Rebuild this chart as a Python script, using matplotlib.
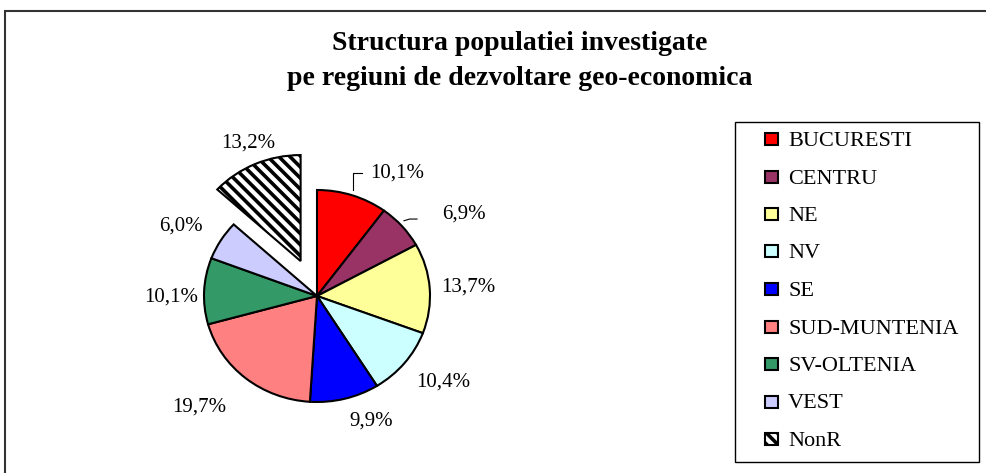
import matplotlib
matplotlib.use('Agg')
import matplotlib.pyplot as plt
from matplotlib.patches import Rectangle
import numpy as np

regions = ['BUCURESTI', 'CENTRU', 'NE', 'NV', 'SE', 'SUD-MUNTENIA', 'SV-OLTENIA', 'VEST', 'NonR']
shares = [10.1, 6.9, 13.7, 10.4, 9.9, 19.7, 10.1, 6.0, 13.2]
colors = ['#FF0000', '#993366', '#FFFF99', '#CCFFFF', '#0000FF', '#FF8080', '#339966', '#CCCCFF', 'white']
title = 'Structura populatiei investigate\npe regiuni de dezvoltare geo-economica'

explode = [0, 0, 0, 0, 0, 0, 0, 0, 0.36]
# label placement: shift (deg) from wedge middle and distance from centre
label_shift = [-13.2, -10.4, -0.5, 3.4, 7.9, -5.8, 3.1, 2.9, -0.8]
label_dist = [1.36, 1.51, 1.34, 1.38, 1.27, 1.48, 1.29, 1.37, 1.57]

plt.rcParams['font.family'] = ['Liberation Serif', 'DejaVu Serif']
plt.rcParams['hatch.linewidth'] = 2.6

fig = plt.figure(figsize=(9.86, 4.73), dpi=100)
W, H = 986, 473

# pie axes: centre at pixel (317, 296); the original is slightly wider than tall
cx, cy, rx, ry = 317, 296, 113, 106
left, right, top, bottom = 100, 540, 120, 460
ax = fig.add_axes([left / W, (H - bottom) / H, (right - left) / W, (bottom - top) / H])
wedges, _ = ax.pie(shares, colors=colors, startangle=90, counterclock=False,
                   explode=explode, radius=1,
                   wedgeprops=dict(edgecolor='black', linewidth=1.5))
wedges[-1].set_hatch('\\\\\\')
ax.set_aspect('auto')
ax.set_xlim((left - cx) / rx, (right - cx) / rx)
ax.set_ylim((cy - bottom) / ry, (cy - top) / ry)
ax.axis('off')

for w, v, s, d in zip(wedges, shares, label_shift, label_dist):
    ang = np.deg2rad((w.theta1 + w.theta2) / 2 + s)
    ax.text(d * np.cos(ang), d * np.sin(ang), f'{v:.1f}%'.replace('.', ','),
            ha='center', va='center', fontsize=15)

# leader lines for the two small labels at top right
ax.plot([0.32, 0.32, 0.40], [1.0, 1.16, 1.16], color='black', lw=0.8)
ax.plot([0.77, 0.82, 0.885], [0.71, 0.726, 0.726], color='black', lw=0.8)

fig.text(520 / W, 1 - 61 / H, title, ha='center', va='center', fontsize=20,
         fontweight='bold', linespacing=1.52)

# legend box, drawn by hand to match the original spacing
fig.patches.append(Rectangle((735 / W, 1 - 462 / H), 244 / W, 340 / H,
                             transform=fig.transFigure, fill=False,
                             edgecolor='black', linewidth=1.0))
for i, (w, name) in enumerate(zip(wedges, regions)):
    yc = 139 + i * 37.5
    fig.patches.append(Rectangle((765 / W, 1 - (yc + 6) / H), 13 / W, 12 / H,
                                 transform=fig.transFigure,
                                 facecolor=w.get_facecolor(), hatch=w.get_hatch(),
                                 edgecolor='black', linewidth=1.5))
    fig.text(788 / W, 1 - yc / H, name, ha='left', va='center_baseline', fontsize=16)

# outer chart frame (runs off the right and bottom edges)
fig.patches.append(Rectangle((5 / W, -0.1), 1.2, 1.1 - 11 / H,
                             transform=fig.transFigure, fill=False,
                             edgecolor='#333333', linewidth=1.5))

fig.savefig('out.png', dpi=100)
